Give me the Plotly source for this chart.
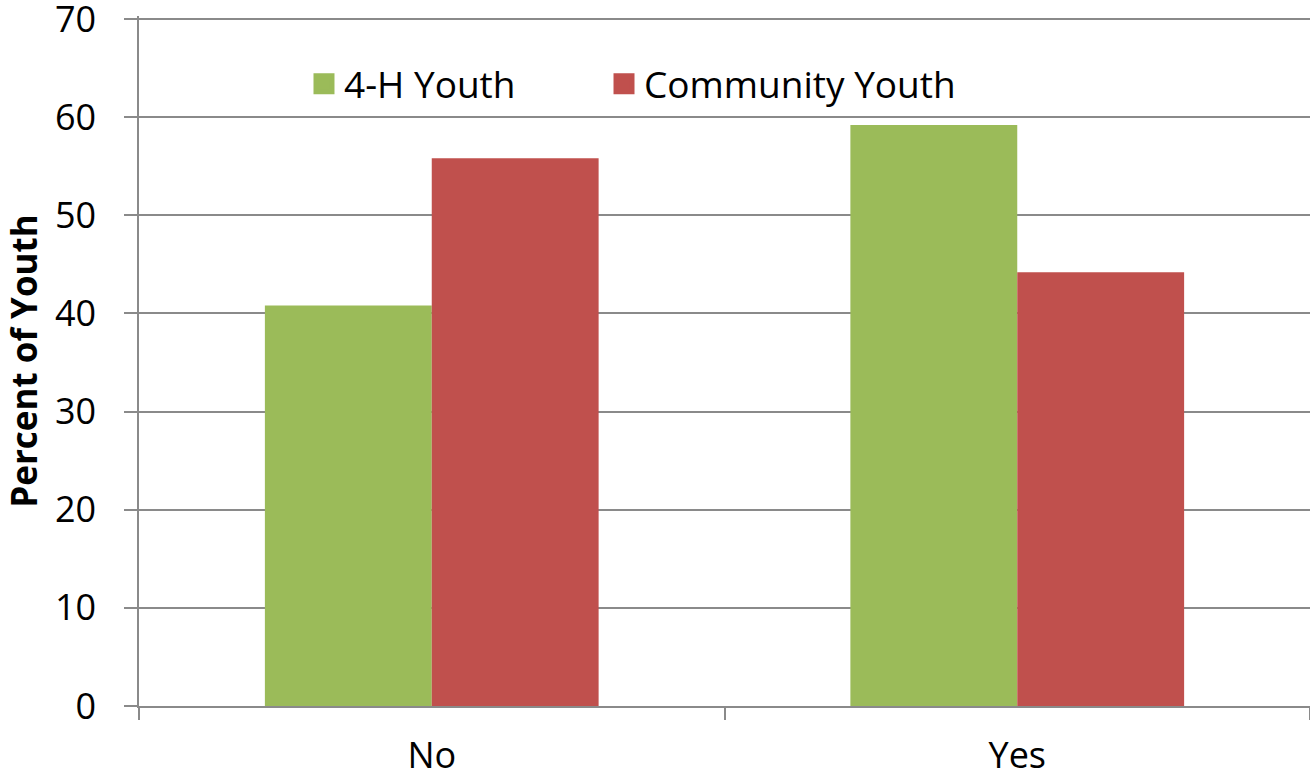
import plotly.graph_objects as go

categories = ["No", "Yes"]
series_names = ["4-H Youth", "Community Youth"]
youth_4h = [40.8, 59.2]
community_youth = [55.8, 44.2]
y_ticks = [0, 10, 20, 30, 40, 50, 60, 70]

colors = ["#9BBB59", "#C0504D"]
grid = "#8a8a8a"
font_family = "'Open Sans', sans-serif"
legend_ids = ["legend", "legend2"]

fig = go.Figure()
for name, vals, col, lg in zip(series_names, [youth_4h, community_youth], colors, legend_ids):
    fig.add_trace(go.Bar(
        x=categories, y=vals, name=name, marker=dict(color=col, line=dict(width=0)),
        showlegend=False,
    ))
    # larger square swatches for the legend
    fig.add_trace(go.Scatter(
        x=[None], y=[None], mode="markers", name=name, legend=lg,
        marker=dict(symbol="square", size=16, color=col, line=dict(color=col, width=5)),
    ))

legend_style = dict(
    orientation="h", y=0.946, xanchor="left", yanchor="top",
    font=dict(size=37), itemsizing="trace", bgcolor="rgba(0,0,0,0)",
)

fig.update_layout(
    width=1310, height=779,
    margin=dict(l=139, r=0, t=16, b=73),
    paper_bgcolor="white", plot_bgcolor="white",
    barmode="group", bargap=0.43, bargroupgap=0,
    font=dict(family=font_family, size=36, color="black"),
    legend=dict(x=0.1409, **legend_style),
    legend2=dict(x=0.3971, **legend_style),
)
fig.update_yaxes(
    range=[0, 70.3], tickvals=y_ticks, showgrid=True, gridcolor=grid, gridwidth=1.5,
    showline=True, linecolor=grid, linewidth=1.5,
    ticks="outside", ticklen=13, tickcolor=grid, tickwidth=1.5,
    ticklabelstandoff=21, ticklabeloverflow="allow", zeroline=False, automargin=False,
    title=dict(text="<b>Percent of Youth</b>", font=dict(size=35), standoff=14),
)
fig.update_xaxes(
    showgrid=False, showline=True, linecolor=grid, linewidth=2,
    ticks="outside", tickson="boundaries", ticklen=12, tickcolor=grid, tickwidth=1.5,
    ticklabelstandoff=17, ticklabeloverflow="allow", automargin=False,
)

fig.write_html("out.html")
